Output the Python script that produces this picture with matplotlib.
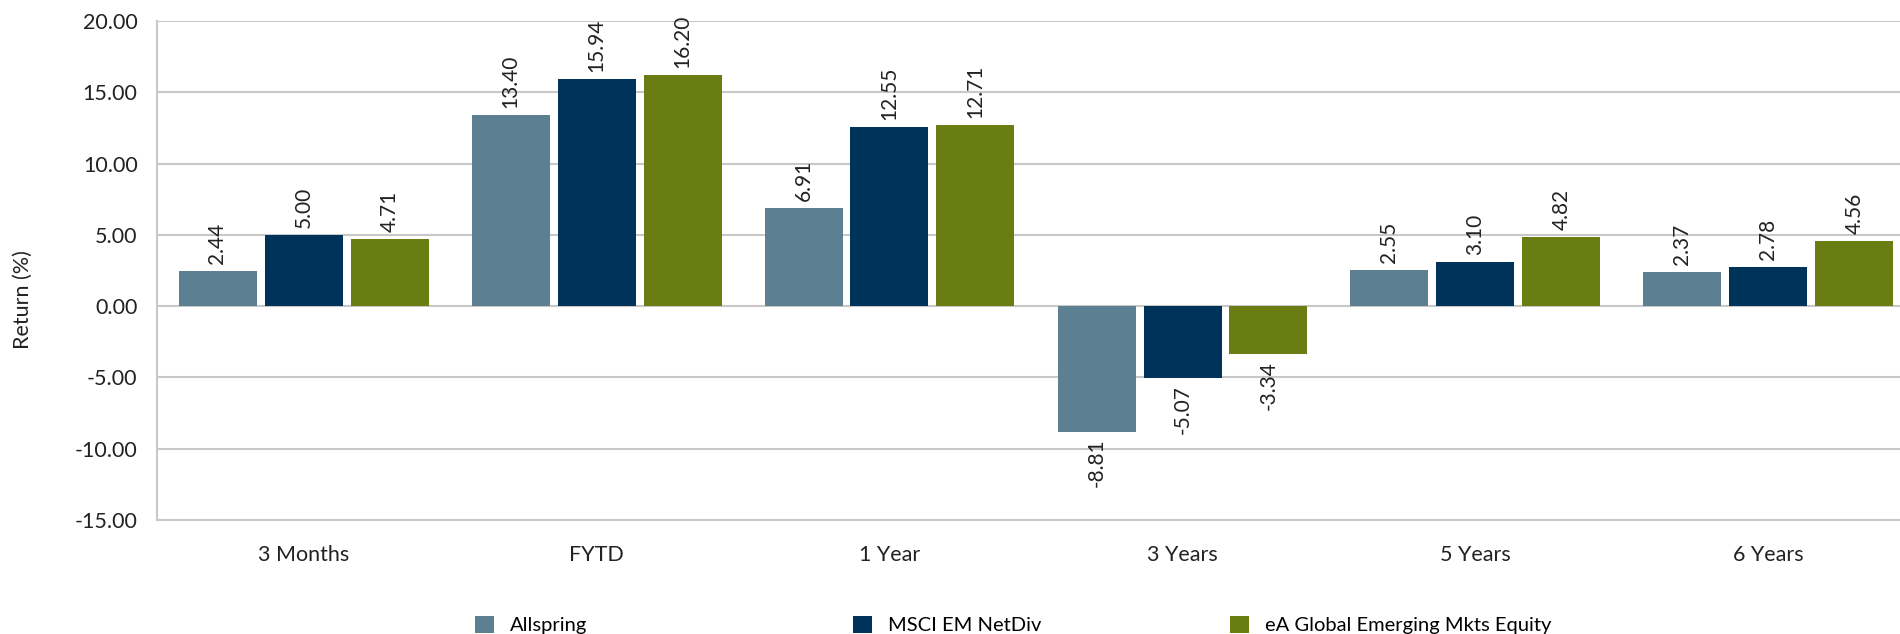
import matplotlib
matplotlib.use("Agg")
import matplotlib.pyplot as plt
import numpy as np

categories = ["3 Months", "FYTD", "1 Year", "3 Years", "5 Years", "6 Years"]
series_names = ["Allspring", "MSCI EM NetDiv", "eA Global Emerging Mkts Equity"]
allspring = [2.44, 13.40, 6.91, -8.81, 2.55, 2.37]
msci = [5.00, 15.94, 12.55, -5.07, 3.10, 2.78]
ea = [4.71, 16.20, 12.71, -3.34, 4.82, 4.56]
yticks = [20, 15, 10, 5, 0, -5, -10, -15]

colors = ["#5C7F92", "#003359", "#6A7D13"]
plt.rcParams['font.family'] = ['Lato', 'DejaVu Sans']

W, H = 1900, 634
fig = plt.figure(figsize=(W/100, H/100), dpi=100)
cat_px = 293.0
ax = fig.add_axes([157/W, 1-520/H, 6*cat_px/W, (520-21)/H])

x = np.arange(len(categories))
width = 78/cat_px
step = 86/cat_px
grid_c = "#C8C8C8"

handles = []
for i, (vals, name, c) in enumerate(zip([allspring, msci, ea], series_names, colors)):
    bars = ax.bar(x + (i-1)*step, vals, width, color=c, label=name, zorder=3)
    handles.append(bars)
    ax.bar_label(bars, labels=[f"{v:.2f}" for v in vals], rotation=90, padding=5,
                 fontsize=15, color="#222222")

ax.set_xlim(-0.5, len(categories)-0.5)
ax.set_ylim(-15, 20)
ax.set_yticks(yticks)
ax.set_yticklabels([f"{v:.2f}" for v in yticks])
ax.set_xticks(x)
ax.set_xticklabels(categories)
ax.tick_params(axis='both', length=0, labelsize=15.5, colors="#222222")
ax.tick_params(axis='y', pad=14)
ax.tick_params(axis='x', pad=18)
ax.yaxis.grid(True, color=grid_c, linewidth=1.5, zorder=0)
ax.set_axisbelow(True)
for s in ["top", "right"]:
    ax.spines[s].set_visible(False)
for s in ["left", "bottom"]:
    ax.spines[s].set_color(grid_c)
    ax.spines[s].set_linewidth(1.5)
ax.set_ylabel("Return (%)", fontsize=15.5, color="#222222")
ax.yaxis.set_label_coords(-0.0705, 0.441)

legend_x = [475, 853, 1230]
for h, name, lx in zip(handles, series_names, legend_x):
    leg = fig.legend([h], [name], loc="center left", bbox_to_anchor=(lx/W, 1-625/H),
                     frameon=False, fontsize=14.5, borderpad=0, borderaxespad=0,
                     handlelength=0.93, handleheight=0.93, handletextpad=0.8)

fig.savefig("out.png", dpi=100)
